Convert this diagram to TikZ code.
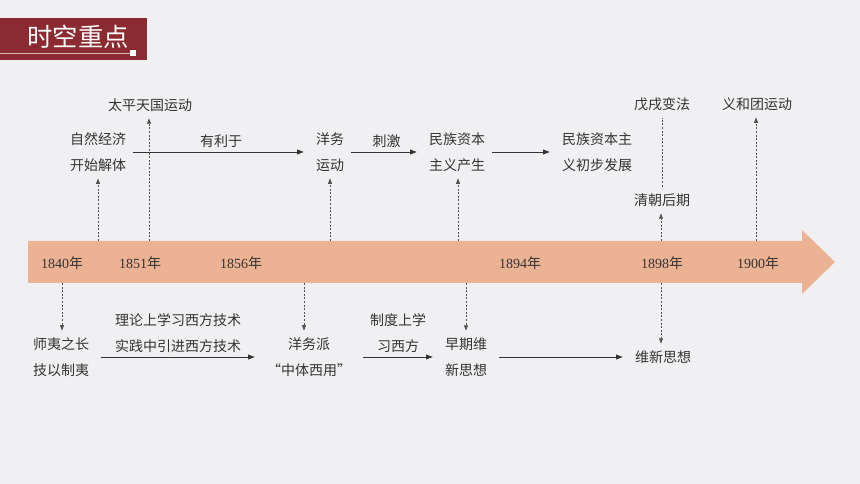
\documentclass[tikz,border=0pt]{standalone}
\usepackage{fontspec}
\setmainfont{Liberation Serif}
\newfontfamily\cjk{Noto Sans CJK SC}
\usetikzlibrary{arrows.meta}
\definecolor{bgcolor}{HTML}{F0F0F2}
\definecolor{titlered}{HTML}{8B2B31}
\definecolor{bandcolor}{HTML}{EBB393}
\definecolor{txtgray}{HTML}{333333}
\tikzset{txt/.style={font=\cjk\fontsize{10.5}{19.5}\selectfont, text=txtgray, align=center, inner sep=5pt}}
\tikzset{year/.style={font=\fontsize{10.5}{12}\selectfont, text=txtgray, inner sep=2pt}}
\tikzset{link/.style={draw=txtgray, line width=0.6pt, shorten >=4pt, -{Triangle[length=5pt,width=3.6pt]}}}
\tikzset{dashlink/.style={draw=txtgray!85, line width=0.5pt, dash pattern=on 1.5pt off 1.2pt, -{Triangle[length=4pt,width=3pt]}}}
\tikzset{dashline/.style={draw=txtgray!85, line width=0.5pt, dash pattern=on 1.5pt off 1.2pt}}

\begin{document}
\begin{tikzpicture}[x=0.75pt, y=-0.75pt]
	% Page and title
	\fill[bgcolor] (0,0) rectangle (860,484);
	\useasboundingbox (0,0) rectangle (860,484);
	\fill[titlered] (0,18) rectangle (147,60);
	\node[font=\cjk\fontsize{19}{19}\selectfont, text=white, inner sep=0] (title) at (78,37) {时空重点};
	\coordinate (tlstart) at (0,53);
	\node[fill=white, minimum size=4pt, inner sep=0] (tlend) at (133,53) {};
	\draw[white!65!titlered, line width=0.6pt] (tlstart) -- (tlend);

	% Time band
	\fill[bandcolor] (28,241) -- (802,241) -- (802,230) -- (835,262) -- (802,294) -- (802,283) -- (28,283) -- cycle;
	\node[year] (y1840) at (62,263) {1840{\cjk 年}};
	\node[year] (y1851) at (140,263) {1851{\cjk 年}};
	\node[year] (y1856) at (241,263) {1856{\cjk 年}};
	\node[year] (y1894) at (520,263) {1894{\cjk 年}};
	\node[year] (y1898) at (662,263) {1898{\cjk 年}};
	\node[year] (y1900) at (758,263) {1900{\cjk 年}};

	\coordinate (t1840) at (98,241);	\coordinate (t1851) at (149,241);	\coordinate (t1860) at (330,241);
	\coordinate (t1894) at (458,241);	\coordinate (t1898) at (661,241);	\coordinate (t1900) at (756,241);
	\coordinate (b1840) at (62,283);	\coordinate (b1860) at (304,283);	\coordinate (b1894) at (466,283);
	\coordinate (b1898) at (661,283);

	% Upper row
	\node[txt] (ziran) at (98,152) {自然经济\\开始解体};
	\node[txt] (taiping) at (150,105) {太平天国运动};
	\node[txt] (yangwu) at (330,152) {洋务\\运动};
	\node[txt] (minzu) at (457,152) {民族资本\\主义产生};
	\node[txt] (fazhan) at (597,152) {民族资本主\\义初步发展};
	\node[txt] (wuxu) at (662,104) {戊戌变法};
	\node[txt] (qingchao) at (662,200) {清朝后期};
	\node[txt] (yihe) at (757,104) {义和团运动};

	\draw[link] (ziran) -- node[txt, above, inner sep=3pt] {有利于} (yangwu);
	\draw[link] (yangwu) -- node[txt, above, inner sep=3pt] {刺激} (minzu);
	\draw[link] (minzu) -- (fazhan);

	\draw[dashlink] (t1840) -- (t1840 |- ziran.south);
	\draw[dashlink] (t1851) -- (t1851 |- taiping.south);
	\draw[dashlink] (t1860) -- (t1860 |- yangwu.south);
	\draw[dashlink] (t1894) -- (t1894 |- minzu.south);
	\draw[dashlink] (t1898) -- (t1898 |- qingchao.south);
	\draw[dashline] (qingchao) -- (wuxu);
	\draw[dashlink] (t1900) -- (t1900 |- yihe.south);

	% Lower row
	\node[txt] (shiyi) at (61,357) {师夷之长\\技以制夷};
	\node[txt] (yangwupai) at (309,357) {洋务派\\“中体西用”};
	\node[txt] (zaoqi) at (466,357) {早期维\\新思想};
	\node[txt] (weixin) at (663,357) {维新思想};

	\draw[link, shorten <=4pt] (shiyi) -- node[txt, above, inner sep=3pt] {理论上学习西方技术\\实践中引进西方技术} (yangwupai);
	\draw[link, shorten <=4pt] (yangwupai) -- node[txt, above, inner sep=3pt] {制度上学\\习西方} (zaoqi);
	\draw[link, shorten <=4pt] (zaoqi) -- (weixin);

	\draw[dashlink] (b1840) -- (b1840 |- shiyi.north);
	\draw[dashlink] (b1860) -- (b1860 |- yangwupai.north);
	\draw[dashlink] (b1894) -- (b1894 |- zaoqi.north);
	\draw[dashlink] (b1898) -- (b1898 |- weixin.north);

\end{tikzpicture}
\end{document}
